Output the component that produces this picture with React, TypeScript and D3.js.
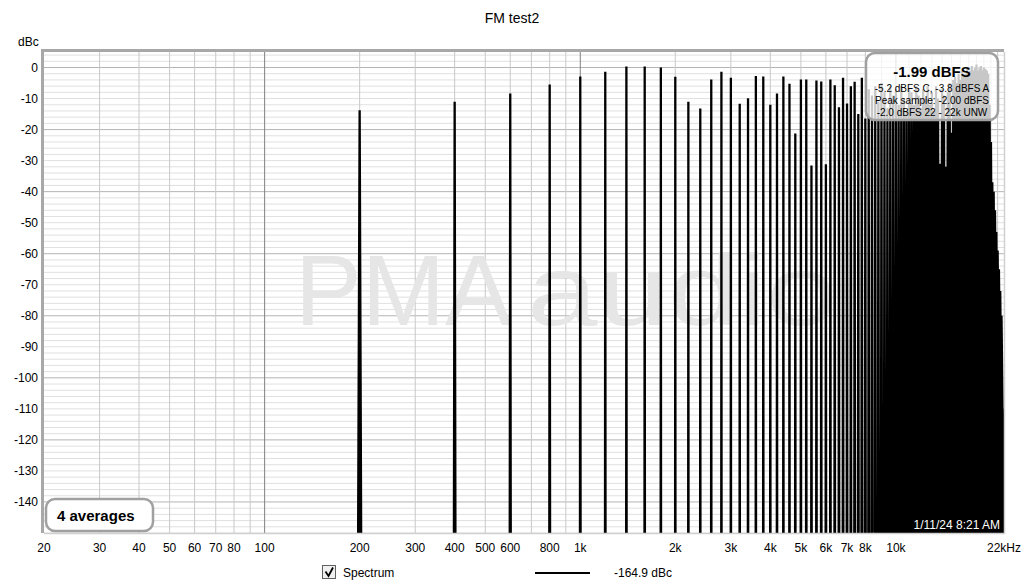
import * as d3 from "d3";

// FM test2 spectrum: harmonics of 200 Hz, level in dBc
const fundamentalHz = 200;
const harmonicLevels = [
  -13.8, -11, -8.4, -5.5, -2.9, -1.4, 0.3, 0.3, 0, -3,
  -11, -13.2, -3.9, -1.4, -3.3, -11.7, -9.9, -2.7, -2.9, -12,
  -8.4, -2.9, -5.2, -21.3, -3.9, -3.9, -31.6, -4.2, -4.5, -31.2,
  -3.9, -5.7, -12.8, -3.3, -11.6, -6, -4.6, -15, -3.3, -16.4,
  -7, -9, -6, -11, -5, -8, -13, -6, -9, -7,
  -12, -6, -10, -14, -7, -8, -12, -6, -9, -13,
  -7, -10, -6, -12, -8, -14, -6, -10, -31, -7,
  -9, -32, -8, -5, -21, -4, -3, -5, -2, -4,
  -1, -3, -2, 0, -2, -1, 0.5, -1, 0, 1,
  -1, 0, 0.5, -1, 0, -0.5, -1, -2, -12, -24,
  -37, -40, -46, -53, -59, -65, -72, -80, -110,
];
const floorLevel = -164.9;

const yTicks = [0, -10, -20, -30, -40, -50, -60, -70, -80, -90, -100, -110, -120, -130, -140];
const xTickLabels: [number, string][] = [
  [20, "20"], [30, "30"], [40, "40"], [50, "50"], [60, "60"], [70, "70"], [80, "80"],
  [100, "100"], [200, "200"], [300, "300"], [400, "400"], [500, "500"], [600, "600"],
  [800, "800"], [1000, "1k"], [2000, "2k"], [3000, "3k"], [4000, "4k"], [5000, "5k"],
  [6000, "6k"], [7000, "7k"], [8000, "8k"], [10000, "10k"], [22000, "22kHz"],
];
const xGrid = [
  30, 40, 50, 60, 70, 80, 90, 100, 200, 300, 400, 500, 600, 700, 800, 900,
  1000, 2000, 3000, 4000, 5000, 6000, 7000, 8000, 9000, 10000,
  11000, 12000, 13000, 14000, 15000, 16000, 17000, 18000, 19000, 20000, 21000,
];
const decades = [100, 1000, 10000];

const W = 1024;
const H = 587;
const left = 44, right = 1004, top = 52, bottom = 533;
const font = "'Liberation Sans', Arial, sans-serif";

export default function App() {
  const x = d3.scaleLog().domain([20, 22000]).range([left, right]);
  const y = d3.scaleLinear().domain([5, -150]).range([top, bottom]);

  // each harmonic drawn as a narrow peak rising out of the floor;
  // the peak skirt widens toward the top of the band where bins pile up
  const pts: [number, number][] = [];
  harmonicLevels.forEach((lv, i) => {
    const f = fundamentalHz * (i + 1);
    const hw = 2.2 + Math.pow(f / 10000, 3) * 40;
    pts.push([f - hw - 0.3, floorLevel]);
    pts.push([f - hw, -150]);
    pts.push([f, lv]);
    pts.push([f + hw, -150]);
    pts.push([f + hw + 0.3, floorLevel]);
  });
  const spectrum = d3.line<[number, number]>()
    .x(d => x(d[0]))
    .y(d => y(d[1]))(pts) || "";

  const hMinor = d3.range(4, -151, -2);

  return (
    <svg width={W} height={H} style={{ position: "absolute", left: 0, top: 0, background: "#fff" }}
      fontFamily={font}>
      <defs>
        <clipPath id="plot">
          <rect x={left} y={top} width={right - left} height={bottom - top} />
        </clipPath>
      </defs>
      <text x={512} y={23} textAnchor="middle" fontSize={14}>FM test2</text>
      <text x={18} y={46} fontSize={12}>dBc</text>

      <rect x={left} y={top} width={right - left} height={bottom - top} fill="#fff" />
      <g clipPath="url(#plot)">
        {hMinor.map(v => {
          const major = v % 20 === 0;
          return (
            <line key={"h" + v} x1={left} x2={right} y1={y(v)} y2={y(v)}
              stroke={major ? "#b4b4b4" : "#e0e0e0"} strokeWidth={1} />
          );
        })}
        {xGrid.map(f => (
          <line key={"v" + f} x1={x(f)} x2={x(f)} y1={top} y2={bottom}
            stroke={decades.includes(f) ? "#808080" : "#c8c8c8"} strokeWidth={1} />
        ))}
        <text x={295} y={325} fontSize={100} fill="#e6e6e6">PMA</text>
        <text x={527} y={325} fontSize={100} fill="#e6e6e6" textLength={310}
          lengthAdjust="spacingAndGlyphs">audio</text>
        <path d={spectrum} fill="#000" stroke="#000" strokeWidth={2.3} strokeLinejoin="miter" />
        <text x={1000} y={529} textAnchor="end" fontSize={12} fill="#fff" stroke="#000"
          strokeWidth={2} paintOrder="stroke">1/11/24 8:21 AM</text>
      </g>
      {/* inset frame */}
      <line x1={left - 1.5} x2={left - 1.5} y1={top - 3} y2={bottom} stroke="#a8a8a8" strokeWidth={3} />
      <line x1={left - 3} x2={right} y1={top - 1.5} y2={top - 1.5} stroke="#a8a8a8" strokeWidth={3} />
      <line x1={right + 0.5} x2={right + 0.5} y1={top} y2={bottom + 1} stroke="#d0d0d0" strokeWidth={1.5} />
      <line x1={left} x2={right} y1={bottom + 0.5} y2={bottom + 0.5} stroke="#d0d0d0" strokeWidth={1.5} />

      {yTicks.map(v => (
        <text key={"yt" + v} x={38} y={y(v) + 4.5} textAnchor="end" fontSize={12}>{v}</text>
      ))}
      {xTickLabels.map(([f, s]) => (
        <text key={"xt" + f} x={x(f)} y={552} textAnchor="middle" fontSize={12}>{s}</text>
      ))}

      {/* level readout box */}
      <rect x={866} y={53} width={132} height={67} rx={9} fill="#fff" fillOpacity={0.78}
        stroke="#a0a0a0" strokeWidth={2.5} />
      <text x={932} y={77} textAnchor="middle" fontSize={15} fontWeight="bold">-1.99 dBFS</text>
      <text x={932} y={92} textAnchor="middle" fontSize={10}>-5.2 dBFS C, -3.8 dBFS A</text>
      <text x={932} y={104} textAnchor="middle" fontSize={10}>Peak sample: -2.00 dBFS</text>
      <text x={932} y={116} textAnchor="middle" fontSize={10}>-2.0 dBFS 22 - 22k UNW</text>

      {/* averages box */}
      <rect x={46} y={499} width={107} height={32} rx={9} fill="#fff" stroke="#a0a0a0" strokeWidth={2.5} />
      <text x={57} y={521} fontSize={15} fontWeight="bold">4 averages</text>

      {/* legend */}
      <rect x={322.5} y={565.5} width={13} height={13} fill="#f0f0f0" stroke="#606060" strokeWidth={1} />
      <path d="M325.5,571.5 L328.5,576 L333,567.5" fill="none" stroke="#000" strokeWidth={1.8} />
      <text x={343} y={577} fontSize={12}>Spectrum</text>
      <line x1={535} x2={590} y1={573} y2={573} stroke="#000" strokeWidth={2} />
      <text x={614} y={577} fontSize={12}>-164.9 dBc</text>
    </svg>
  );
}
